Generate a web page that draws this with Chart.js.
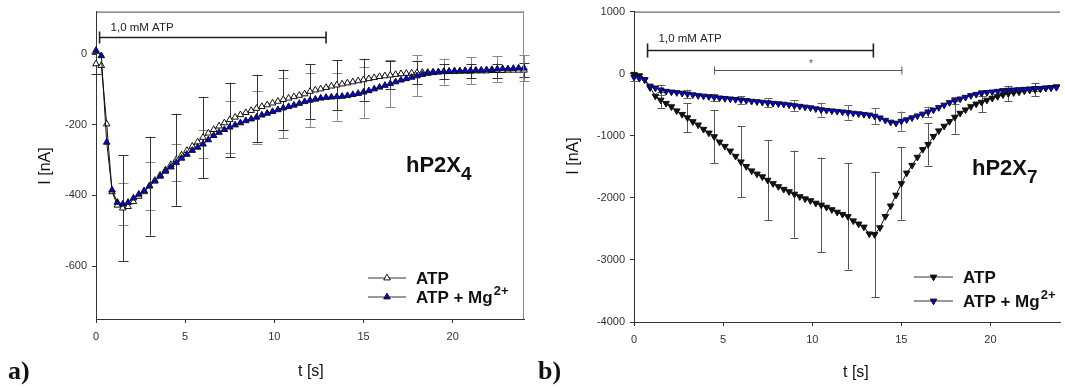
<!DOCTYPE html>
<html>
<head>
<meta charset="utf-8">
<script src="https://cdn.jsdelivr.net/npm/chart.js@4/dist/chart.umd.min.js"></script>
<style>
  body { margin: 0; background: #fff; width: 1065px; height: 390px; position: relative; overflow: hidden; font-family: "Liberation Sans", Arial, sans-serif; }
  .box { position: absolute; top: 0; }
  .txt { position: absolute; white-space: nowrap; line-height: 1; color: #111; }
  .serif { font-family: "Liberation Serif", "Times New Roman", serif; font-weight: bold; font-size: 26px; }
  .ax { font-size: 16px; }
  .name { font-weight: bold; font-size: 22px; }
  .name span { font-size: 19px; position: relative; top: 8px; }
</style>
</head>
<body>
<div class="box" style="left:0"><canvas id="chartA" width="530" height="390"></canvas></div>
<div class="box" style="left:530px"><canvas id="chartB" width="535" height="390"></canvas></div>

<div class="txt serif" style="left:8px; top:358px">a)</div>
<div class="txt serif" style="left:538px; top:358px">b)</div>
<div class="txt ax" style="left:298px; top:363px">t [s]</div>
<div class="txt ax" style="left:843px; top:364px">t [s]</div>
<div class="txt ax" style="left:45px; top:166px; transform: translate(-50%,-50%) rotate(-90deg)">I [nA]</div>
<div class="txt ax" style="left:573px; top:156px; transform: translate(-50%,-50%) rotate(-90deg)">I [nA]</div>
<div class="txt name" style="left:406px; top:154px">hP2X<span>4</span></div>
<div class="txt name" style="left:972px; top:157px">hP2X<span>7</span></div>

<script>
// Zeitpunkte (s), Abstand 0,3 s
const times = [
  0, 0.3, 0.6, 0.9, 1.2, 1.5, 1.8, 2.1, 2.4, 2.7,
  3, 3.3, 3.6, 3.9, 4.2, 4.5, 4.8, 5.1, 5.4, 5.7,
  6, 6.3, 6.6, 6.9, 7.2, 7.5, 7.8, 8.1, 8.4, 8.7,
  9, 9.3, 9.6, 9.9, 10.2, 10.5, 10.8, 11.1, 11.4, 11.7,
  12, 12.3, 12.6, 12.9, 13.2, 13.5, 13.8, 14.1, 14.4, 14.7,
  15, 15.3, 15.6, 15.9, 16.2, 16.5, 16.8, 17.1, 17.4, 17.7,
  18, 18.3, 18.6, 18.9, 19.2, 19.5, 19.8, 20.1, 20.4, 20.7,
  21, 21.3, 21.6, 21.9, 22.2, 22.5, 22.8, 23.1, 23.4, 23.7,
  24
];

// a) hP2X4
const p2x4Atp = [
  -28, -33, -198, -390, -428, -436, -432, -418, -403, -390,
  -374, -358, -343, -328, -313, -299, -286, -273, -261, -249,
  -236, -224, -214, -204, -195, -186, -179, -172, -166, -160,
  -154, -149, -144, -139, -134, -129, -125, -121, -117, -113,
  -106, -102, -99, -95, -91, -88, -85, -82, -79, -76,
  -73, -70, -67, -64, -62, -60, -58, -56, -55, -54,
  -53, -52, -52, -51, -51, -50, -50, -50, -49, -49,
  -49, -48, -48, -48, -47, -47, -47, -46, -46, -46,
  -46
];
const p2x4Mg = [
  10, -5, -250, -385, -420, -425, -420, -408, -397, -387,
  -373, -360, -346, -332, -320, -307, -295, -284, -273, -264,
  -255, -243, -231, -222, -214, -207, -201, -195, -189, -184,
  -179, -173, -168, -163, -158, -153, -149, -145, -140, -135,
  -131, -128, -125, -123, -122, -121, -120, -118, -115, -112,
  -108, -104, -99, -94, -89, -84, -79, -74, -70, -66,
  -62, -58, -55, -53, -51, -50, -49, -48, -48, -47,
  -47, -46, -46, -45, -44, -43, -42, -42, -41, -40,
  -40
];
const p2x4ErrTimes = [0, 1.5, 3, 4.5, 6, 7.5, 9, 10.5, 12, 13.5, 15, 16.5, 18, 19.5, 21, 22.5, 24];
const p2x4AtpErr = [30, 150, 140, 130, 115, 105, 95, 85, 78, 70, 60, 40, 33, 22, 20, 20, 20];
const p2x4MgErr = [null, 60, 68, 52, 40, 74, 75, 85, 76, 68, 72, 67, 58, 37, 38, 36, 37];

// b) hP2X7
const p2x7Atp = [
  -10, -32, -96, -225, -360, -425, -478, -532, -598, -655,
  -710, -772, -825, -895, -955, -1015, -1100, -1170, -1245, -1330,
  -1420, -1495, -1565, -1615, -1660, -1715, -1770, -1818, -1862, -1900,
  -1940, -1980, -2015, -2045, -2085, -2115, -2150, -2190, -2230, -2265,
  -2300, -2370, -2420, -2470, -2580, -2590, -2480, -2300, -2130, -1955,
  -1770, -1600, -1475, -1345, -1220, -1140, -1010, -920, -845, -770,
  -700, -636, -582, -530, -488, -460, -425, -395, -368, -340,
  -320, -305, -295, -278, -265, -255, -245, -232, -225, -210
];
const p2x7Mg = [
  -55, -75, -96, -200, -230, -262, -283, -294, -304, -315,
  -326, -339, -352, -360, -369, -380, -390, -398, -406, -414,
  -422, -432, -443, -451, -459, -468, -476, -484, -491, -502,
  -515, -525, -537, -548, -565, -580, -590, -598, -606, -615,
  -625, -636, -645, -655, -665, -685, -712, -750, -780, -796,
  -765, -742, -710, -680, -650, -615, -585, -545, -505, -465,
  -433, -406, -380, -352, -332, -315, -302, -294, -283, -272,
  -266, -262, -256, -251, -245, -240, -236, -230, -226, -220
];
const p2x7ErrTimes = [0, 1.5, 3, 4.5, 6, 7.5, 9, 10.5, 12, 13.5, 15, 16.5, 18, 19.5, 21, 22.5];
const p2x7AtpErr = [null, 125, 232, 430, 570, 640, 700, 764, 855, 1010, 583, 340, 267, 165, 125, 107];
const p2x7MgErr = [65, 85, 70, 60, 60, 75, 90, 112, 115, 133, 155, 85, 60, 45, 40, 35];

// Achsenbeschriftung
const xTicks = [0, 5, 10, 15, 20];
const p2x4YTicks = [-600, -400, -200, 0];
const p2x7YTicks = [-4000, -3000, -2000, -1000, 0, 1000];

const FONT = '"Liberation Sans", Arial, sans-serif';

function toPoints(vals) {
  return vals.map((v, i) => ({ x: times[i], y: v }));
}

// Fehlerbalken, Rahmen, ATP-Balken und Legende
const extras = {
  id: 'extras',
  beforeDatasetsDraw(chart) {
    const ctx = chart.ctx;
    const xs = chart.scales.x, ys = chart.scales.y;
    chart.data.datasets.forEach(ds => {
      if (!ds.errTimes) return;
      ctx.save();
      ctx.strokeStyle = ds.errColor;
      ctx.lineWidth = 1;
      ds.errTimes.forEach((t, k) => {
        const e = ds.errValues[k];
        if (e == null) return;
        const p = ds.data.find(d => Math.abs(d.x - t) < 1e-6);
        if (!p) return;
        const x = Math.round(xs.getPixelForValue(t)) + 0.5;
        const y1 = ys.getPixelForValue(p.y + e);
        const y2 = ys.getPixelForValue(p.y - e);
        const c = ds.capHalf;
        ctx.beginPath();
        ctx.moveTo(x, y1); ctx.lineTo(x, y2);
        ctx.moveTo(x - c, Math.round(y1) + 0.5); ctx.lineTo(x + c, Math.round(y1) + 0.5);
        ctx.moveTo(x - c, Math.round(y2) + 0.5); ctx.lineTo(x + c, Math.round(y2) + 0.5);
        ctx.stroke();
      });
      ctx.restore();
    });
  },
  afterDraw(chart, args, opts) {
    const ctx = chart.ctx;
    const area = chart.chartArea;
    const xs = chart.scales.x, ys = chart.scales.y;
    ctx.save();
    // Rahmen
    ctx.lineWidth = 1;
    ctx.strokeStyle = '#444';
    ctx.beginPath();
    ctx.moveTo(area.left, area.top + 0.5); ctx.lineTo(area.right, area.top + 0.5);
    ctx.stroke();
    if (opts.rightBorder) {
      ctx.strokeStyle = '#888';
      ctx.beginPath();
      ctx.moveTo(area.right - 0.5, area.top); ctx.lineTo(area.right - 0.5, area.bottom);
      ctx.stroke();
    }
    // Applikationsbalken
    (opts.bars || []).forEach(b => {
      const x1 = xs.getPixelForValue(b.from), x2 = xs.getPixelForValue(b.to);
      const y = Math.round(ys.getPixelForValue(b.y)) + 0.5;
      ctx.strokeStyle = b.color;
      ctx.lineWidth = b.width;
      ctx.beginPath();
      ctx.moveTo(x1, y); ctx.lineTo(x2, y);
      ctx.moveTo(x1, y - b.cap); ctx.lineTo(x1, y + b.cap);
      ctx.moveTo(x2, y - b.cap); ctx.lineTo(x2, y + b.cap);
      ctx.stroke();
      if (b.label) {
        ctx.fillStyle = '#222';
        ctx.font = '11.5px ' + FONT;
        ctx.textBaseline = 'middle';
        ctx.textAlign = 'left';
        ctx.fillText(b.label, x1 + 11, y - b.labelUp);
      }
    });
    (opts.marks || []).forEach(m => {
      ctx.fillStyle = '#555';
      ctx.font = '10px ' + FONT;
      ctx.textAlign = 'center';
      ctx.textBaseline = 'middle';
      ctx.fillText(m.text, xs.getPixelForValue(m.x), ys.getPixelForValue(m.y));
    });
    // Legende
    const lg = opts.legend;
    if (lg) {
      lg.rows.forEach(r => {
        const ds = chart.data.datasets[r.dataset];
        ctx.strokeStyle = '#777';
        ctx.lineWidth = 1.5;
        ctx.beginPath();
        ctx.moveTo(lg.x0, r.y); ctx.lineTo(lg.x1, r.y);
        ctx.stroke();
        ctx.fillStyle = ds.pointBackgroundColor;
        ctx.strokeStyle = ds.pointBorderColor;
        ctx.lineWidth = 1;
        Chart.helpers.drawPoint(ctx, {
          pointStyle: 'triangle', rotation: ds.pointRotation || 0,
          radius: ds.pointRadius, borderWidth: 1
        }, (lg.x0 + lg.x1) / 2, r.y);
        ctx.fillStyle = '#111';
        ctx.font = 'bold 17px ' + FONT;
        ctx.textAlign = 'left';
        ctx.textBaseline = 'middle';
        ctx.fillText(r.text, lg.textX, r.y + 1);
        if (r.sup) {
          const w = ctx.measureText(r.text).width;
          ctx.font = 'bold 13px ' + FONT;
          ctx.fillText(r.sup, lg.textX + w + 1, r.y - 6);
        }
      });
    }
    ctx.restore();
  }
};

function axisX(max, height) {
  return {
    type: 'linear', min: 0, max: max,
    afterBuildTicks: a => { a.ticks = xTicks.map(v => ({ value: v })); },
    afterFit: a => { a.height = height; },
    grid: { drawOnChartArea: false, tickLength: 4, color: '#333' },
    border: { color: '#333', width: 1 },
    ticks: { color: '#333', font: { family: FONT, size: 11 }, padding: 7, maxRotation: 0, callback: v => String(v) }
  };
}

function axisY(min, max, tickVals, width) {
  return {
    type: 'linear', min: min, max: max,
    afterBuildTicks: a => { a.ticks = tickVals.map(v => ({ value: v })); },
    afterFit: a => { a.width = width; },
    grid: { drawOnChartArea: false, tickLength: 4, color: '#333' },
    border: { color: '#333', width: 1 },
    ticks: { color: '#333', font: { family: FONT, size: 11 }, padding: 5, callback: v => String(v) }
  };
}

function baseDataset(label, vals, fill, rotation, errVals, errTimes, errColor, cap) {
  return {
    label: label,
    data: toPoints(vals),
    borderColor: '#111',
    borderWidth: 1,
    pointStyle: 'triangle',
    pointRotation: rotation,
    pointRadius: 3.8,
    pointBackgroundColor: fill,
    pointBorderColor: '#111',
    pointBorderWidth: 1,
    tension: 0,
    clip: false,
    errTimes: errTimes,
    errValues: errVals,
    errColor: errColor,
    capHalf: cap
  };
}

function initChartA() {
  const ctx = document.getElementById('chartA').getContext('2d');
  new Chart(ctx, {
    type: 'line',
    data: {
      datasets: [
        baseDataset('ATP + Mg2+', p2x4Mg, '#0000ee', 0, p2x4MgErr, p2x4ErrTimes, '#888', 5),
        baseDataset('ATP', p2x4Atp, '#ffffff', 0, p2x4AtpErr, p2x4ErrTimes, '#333', 5)
      ]
    },
    options: {
      responsive: false,
      animation: false,
      devicePixelRatio: 1,
      layout: { padding: { left: 0, top: 10, right: 6, bottom: 0 } },
      scales: { x: axisX(24, 71), y: axisY(-750, 120, p2x4YTicks, 96) },
      plugins: {
        legend: { display: false },
        tooltip: { enabled: false },
        extras: {
          rightBorder: true,
          bars: [{ from: 0.2, to: 12.9, y: 48, cap: 6, width: 1.6, color: '#222', label: '1,0 mM ATP', labelUp: 10 }],
          legend: {
            x0: 368, x1: 406, textX: 416,
            rows: [
              { y: 278, text: 'ATP', dataset: 1 },
              { y: 297, text: 'ATP + Mg', sup: '2+', dataset: 0 }
            ]
          }
        }
      }
    },
    plugins: [extras]
  });
}

function initChartB() {
  const ctx = document.getElementById('chartB').getContext('2d');
  new Chart(ctx, {
    type: 'line',
    data: {
      datasets: [
        baseDataset('ATP + Mg2+', p2x7Mg, '#0000ee', 180, p2x7MgErr, p2x7ErrTimes, '#666', 4),
        baseDataset('ATP', p2x7Atp, '#111111', 180, p2x7AtpErr, p2x7ErrTimes, '#555', 4)
      ]
    },
    options: {
      responsive: false,
      animation: false,
      devicePixelRatio: 1,
      layout: { padding: { left: 0, top: 10, right: 0, bottom: 0 } },
      scales: { x: axisX(23.9, 68), y: axisY(-4000, 1000, p2x7YTicks, 104) },
      plugins: {
        legend: { display: false },
        tooltip: { enabled: false },
        extras: {
          rightBorder: false,
          bars: [
            { from: 0.76, to: 13.43, y: 380, cap: 7, width: 1.6, color: '#222', label: '1,0 mM ATP', labelUp: 12 },
            { from: 4.52, to: 15.03, y: 60, cap: 4, width: 1, color: '#555' }
          ],
          marks: [{ text: '*', x: 9.93, y: 150 }],
          legend: {
            x0: 384, x1: 423, textX: 433,
            rows: [
              { y: 277, text: 'ATP', dataset: 1 },
              { y: 301, text: 'ATP + Mg', sup: '2+', dataset: 0 }
            ]
          }
        }
      }
    },
    plugins: [extras]
  });
}

document.addEventListener('DOMContentLoaded', () => {
  initChartA();
  initChartB();
});
</script>
</body>
</html>
